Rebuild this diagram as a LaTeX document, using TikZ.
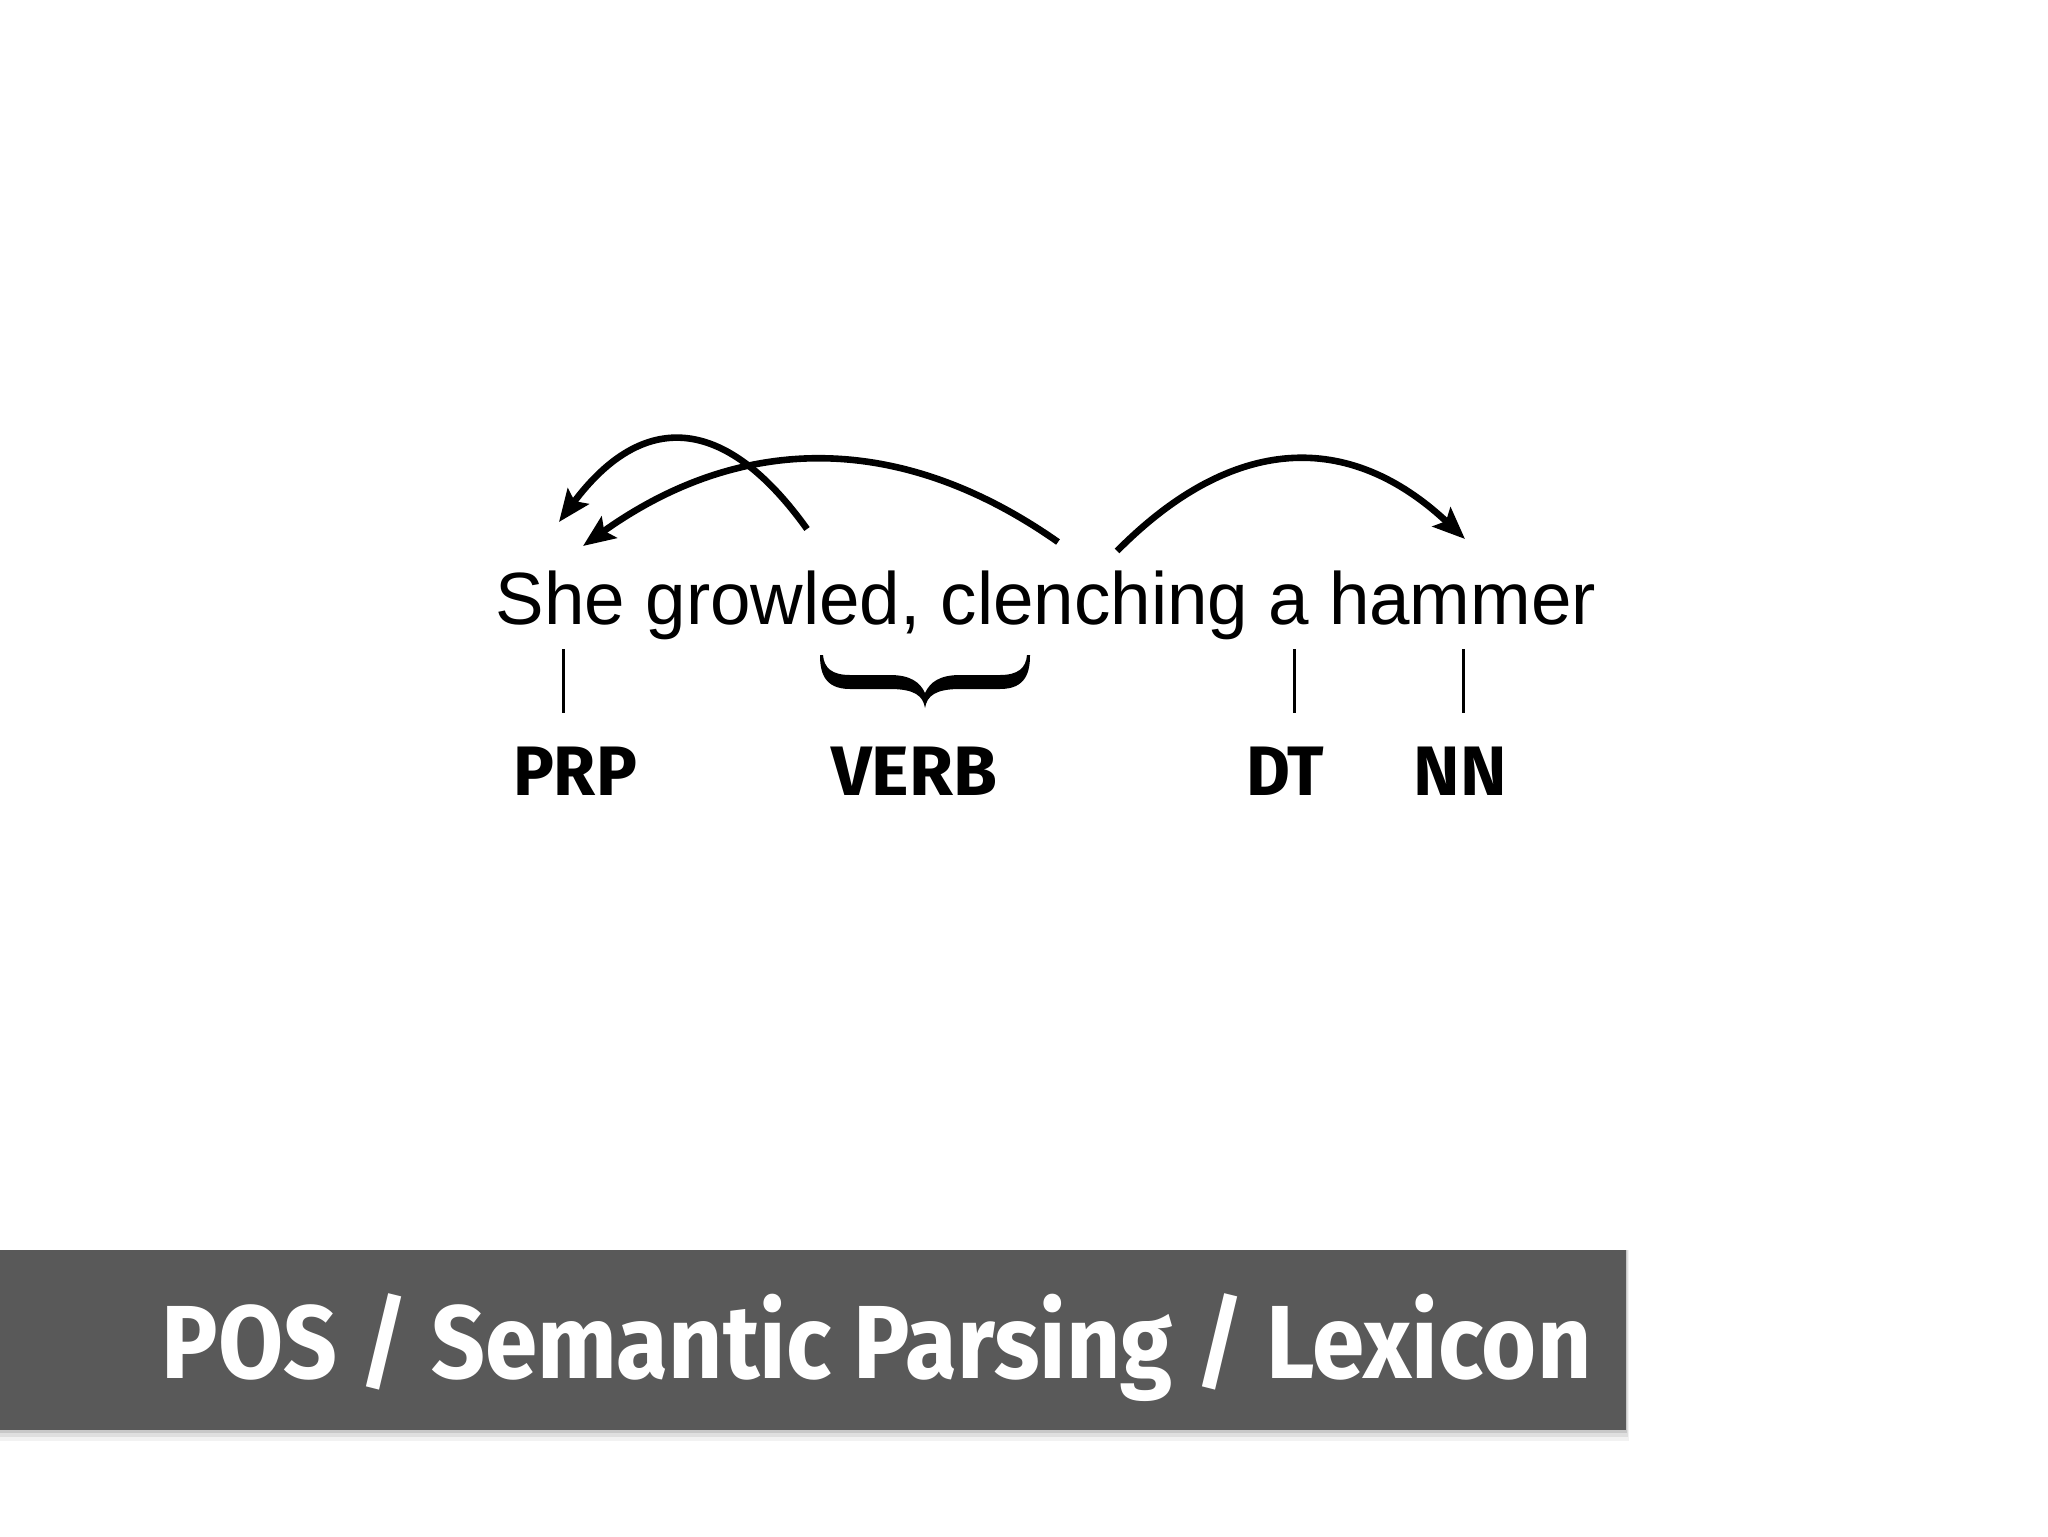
\documentclass[tikz,border=0pt]{standalone}
\usepackage{graphicx}
\usepackage{fontspec}
\setmainfont{Liberation Sans}
\newfontfamily\labfont{Fira Sans}
\usetikzlibrary{arrows.meta}
\definecolor{banner}{RGB}{89,89,89}
\tikzset{
  arc/.style={line width=3.3pt, -{Stealth[length=16pt,width=13pt,inset=3pt]}},
  tagbar/.style={line width=1.5pt},
  tag/.style={anchor=base, inner sep=0pt, font=\labfont\bfseries\fontsize{35}{40}\selectfont},
  sent/.style={anchor=base, inner sep=0pt, font=\fontsize{37}{44}\selectfont},
  title/.style={anchor=base west, inner sep=0pt, text=white, font=\labfont\bfseries\fontsize{52}{60}\selectfont}
}
\begin{document}
\begin{tikzpicture}[x=0.5pt,y=-0.5pt]
\useasboundingbox (0,0) rectangle (2048,1536);
\fill[white] (0,0) rectangle (2048,1536);
% sentence
\node[sent] (sentence) at (1046,624) {\resizebox{550pt}{\height}{She growled, clenching a hammer}};
% arc endpoints
\coordinate (a1s) at (807,529);
\coordinate (a1e) at (559,522);
\coordinate (a2s) at (1058,542);
\coordinate (a2e) at (583,546);
\coordinate (a3s) at (1117,551);
\coordinate (a3e) at (1465,539);
\draw[arc] (a1s) .. controls (724,413) and (642,411) .. (a1e);
\draw[arc] (a2s) .. controls (900,431) and (741,433) .. (a2e);
\draw[arc] (a3s) .. controls (1233,434) and (1349,430) .. (a3e);
% tag bars
\coordinate (b1t) at (563,649); \coordinate (b1b) at (563,713);
\coordinate (b3t) at (1294,649); \coordinate (b3b) at (1294,713);
\coordinate (b4t) at (1463,649); \coordinate (b4b) at (1463,713);
\draw[tagbar] (b1t) -- (b1b);
\draw[tagbar] (b3t) -- (b3b);
\draw[tagbar] (b4t) -- (b4b);
% brace
\fill (820,655) .. controls (820,672) and (824,689) .. (850,689) -- (890,689)
  .. controls (915,689) and (923,696) .. (925,708)
  .. controls (927,696) and (935,689) .. (960,689) -- (1000,689)
  .. controls (1026,689) and (1030,672) .. (1030,655) -- (1027,655)
  .. controls (1026,668) and (1018,675) .. (1000,675) -- (960,675)
  .. controls (940,675) and (930,682) .. (925,693)
  .. controls (920,682) and (910,675) .. (890,675) -- (850,675)
  .. controls (832,675) and (824,668) .. (823,655) -- cycle;
% tags
\node[tag] (prp) at (575,795) {\resizebox{62pt}{\height}{PRP}};
\node[tag] (verb) at (914,795) {\resizebox{83pt}{\height}{VERB}};
\node[tag] (dt) at (1285,795) {\resizebox{39pt}{\height}{DT}};
\node[tag] (nn) at (1460,795) {\resizebox{46.5pt}{\height}{NN}};
% banner with shadow
\fill[black, opacity=0.05] (0,1250) rectangle (1629,1441);
\fill[black, opacity=0.08] (0,1250) rectangle (1628,1437);
\fill[black, opacity=0.10] (0,1250) rectangle (1627,1433);
\fill[banner] (0,1250) rectangle (1626,1430);
\node[title] (ttl) at (161,1378) {\resizebox{715pt}{\height}{POS / Semantic Parsing / Lexicon}};
\end{tikzpicture}
\end{document}
